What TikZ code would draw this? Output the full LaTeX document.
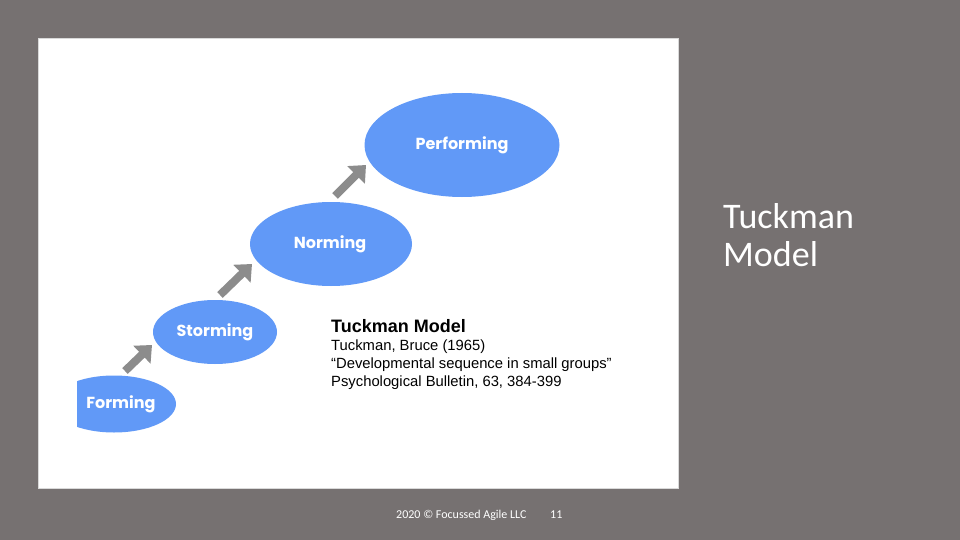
\documentclass[tikz,border=0pt]{standalone}
\usepackage{fontspec}
\setmainfont{Liberation Sans}
\newfontfamily\geofont{Poppins}
\newfontfamily\calfont{Carlito}
\usetikzlibrary{arrows.meta,shapes.geometric}
\definecolor{bg}{HTML}{767171}
\definecolor{ell}{HTML}{6199F7}
\definecolor{arr}{HTML}{8C8C8C}
\tikzset{
  stage/.style={ellipse,fill=ell,draw=none,inner sep=0pt},
  stagetext/.style={text=white,font=\geofont\bfseries\fontsize{16}{18}\selectfont},
  uparrow/.style={draw=arr,line width=8pt,-{Triangle[length=14pt,width=24pt]}},
  ref/.style={anchor=base west,font=\fontsize{14.8}{17}\selectfont,inner sep=0pt}
}
\begin{document}
\begin{tikzpicture}[x=1pt,y=-1pt]
\fill[bg] (0,0) rectangle (960,540);
\useasboundingbox (0,0) rectangle (960,540);
\fill[white] (38,38) rectangle (678,488);
\draw[white!85!black,line width=0.6pt] (38,38) rectangle (678,488);
\begin{scope}
\clip (77,38) rectangle (678,488);
\node[stage,minimum width=124pt,minimum height=57pt] (forming) at (114,404) {};
\end{scope}
\node[stagetext] at (121,404) {Forming};
\node[stage,minimum width=124pt,minimum height=64pt] (storming) at (215,332) {};
\node[stagetext] at (215,332) {Storming};
\node[stage,minimum width=162pt,minimum height=84pt] (norming) at (331,244) {};
\node[stagetext] at (330,244) {Norming};
\node[stage,minimum width=195pt,minimum height=104pt] (performing) at (462,145) {};
\node[stagetext] at (462,145) {Performing};
\coordinate (a1s) at (125,371);
\coordinate (a1e) at (152,345);
\coordinate (a2s) at (220,295);
\coordinate (a2e) at (252,264);
\coordinate (a3s) at (335,196);
\coordinate (a3e) at (366,165);
\draw[uparrow] (a1s) -- (a1e);
\draw[uparrow] (a2s) -- (a2e);
\draw[uparrow] (a3s) -- (a3e);
\node[ref,font=\bfseries\fontsize{18}{20}\selectfont] (title) at (331,332) {Tuckman Model};
\node[ref] (l1) at (331,350) {Tuckman, Bruce (1965)};
\node[ref] (l2) at (331,368) {``Developmental sequence in small groups''};
\node[ref] (l3) at (331,386) {Psychological Bulletin, 63, 384-399};
\node[anchor=base west,text=white,font=\calfont\fontsize{36}{38}\selectfont,inner sep=0pt] (side1) at (723,228) {Tuckman};
\node[anchor=base west,text=white,font=\calfont\fontsize{36}{38}\selectfont,inner sep=0pt] (side2) at (723,266) {Model};
\node[anchor=west,text=white,font=\calfont\fontsize{12}{14}\selectfont,inner sep=0pt] (foot) at (396,515) {2020 © Focussed Agile LLC};
\node[anchor=west,text=white,font=\calfont\fontsize{12}{14}\selectfont,inner sep=0pt] (page) at (550,515) {11};
\end{tikzpicture}
\end{document}
